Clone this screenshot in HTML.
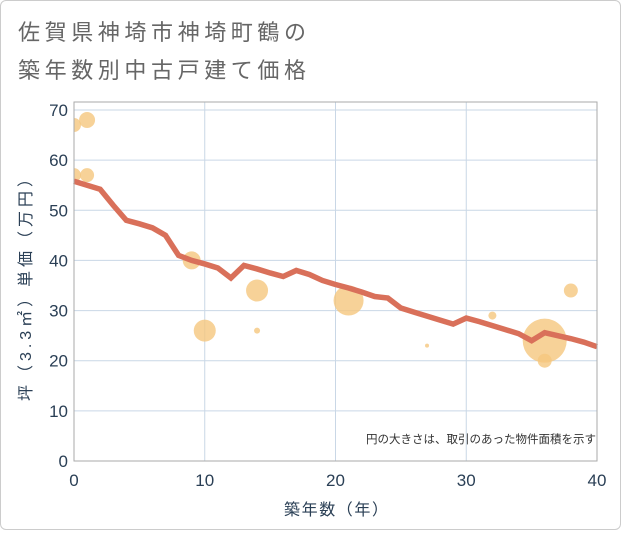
<!DOCTYPE html>
<html><head><meta charset="utf-8"><style>
body{margin:0;background:#fff;}
#c{position:absolute;left:0;top:0;width:619px;height:528px;border:1px solid #ccc;border-radius:6px;background:#fff;}
svg text{font-family:"Liberation Sans","Noto Sans CJK JP",sans-serif;}
</style></head><body>
<div id="c">
<svg id="s" width="621" height="530" xmlns="http://www.w3.org/2000/svg">
<defs><clipPath id="pc"><rect x="73" y="101" width="523" height="359"/></clipPath></defs>
<text x="17" y="39" font-size="22" fill="#666" textLength="288" lengthAdjust="spacing">佐賀県神埼市神埼町鶴の</text>
<text x="17" y="77" font-size="22" fill="#666" textLength="288" lengthAdjust="spacing">築年数別中古戸建て価格</text>
<g id="grid"></g><g id="bub" clip-path="url(#pc)"></g><g id="ln"></g><g id="ax"></g>
<text x="595" y="442" font-size="11.5" fill="#333" text-anchor="end">円の大きさは、取引のあった物件面積を示す</text>
<text x="335" y="514" font-size="16" fill="#2a3f55" text-anchor="middle" textLength="104" lengthAdjust="spacing">築年数（年）</text>
<text transform="translate(30,285) rotate(-90)" font-size="16" fill="#2a3f55" text-anchor="middle" textLength="230" lengthAdjust="spacing">坪（3.3㎡）単価（万円）</text>
</svg></div>
<script>
const lineYears=[0,1,2,3,4,5,6,7,8,9,10,11,12,13,14,15,16,17,18,19,20,21,22,23,24,25,26,27,28,29,30,31,32,33,34,35,36,37,38,39,40];
const lineValues=[55.8,55,54.2,51,48,47.3,46.5,45,41,40,39.3,38.5,36.5,39,38.3,37.5,36.8,38,37.2,36,35.2,34.5,33.7,32.8,32.5,30.5,29.7,28.9,28.1,27.3,28.5,27.8,27,26.2,25.4,24,25.6,25,24.4,23.7,22.8];
const bubbleYears=[0,1,0,1,9,10,14,14,21,27,32,36,36,38];
const bubbleValues=[67,68,57,57,40,26,34,26,32,23,29,24,20,34];
const bubbleSizes=[49,64,49,49,81,121,121,9,225,4,16,484,49,49];
const xTicks=[0,10,20,30,40];
const yTicks=[0,10,20,30,40,50,60,70];
const NS="http://www.w3.org/2000/svg";
const X=v=>73+v*(523/40), Y=v=>460-v*(351/70);
function mk(t,a,p){const e=document.createElementNS(NS,t);for(const k in a)e.setAttribute(k,a[k]);p.appendChild(e);return e;}
const grid=document.getElementById('grid'),ax=document.getElementById('ax');
yTicks.forEach(v=>{const l=mk('line',{x1:73,x2:596,y1:Y(v),y2:Y(v),stroke:'#c9d7e6','stroke-width':1},grid);


const t=mk('text',{x:67,y:Y(v)+6,'font-size':17,fill:'#2a3f55','text-anchor':'end'},ax);t.textContent=v;

});
xTicks.forEach(v=>{const l=mk('line',{x1:X(v),x2:X(v),y1:101,y2:460,stroke:'#c9d7e6','stroke-width':1},grid);


const t=mk('text',{x:X(v),y:485,'font-size':17,fill:'#2a3f55','text-anchor':'middle'},ax);t.textContent=v;

});
const fr=mk('rect',{x:73,y:101,width:523,height:359,fill:'none',stroke:'#aaa','stroke-width':1},ax);


const bub=document.getElementById('bub');
bubbleYears.forEach((yr,i)=>{const c=mk('circle',{cx:X(yr),cy:Y(bubbleValues[i]),r:Math.sqrt(bubbleSizes[i]),fill:'#f5c77e','fill-opacity':0.8},bub);

});
const p=mk('polyline',{points:lineYears.map((y,i)=>X(y)+','+Y(lineValues[i])).join(' '),fill:'none',stroke:'#d9705a','stroke-width':5.5,'stroke-linejoin':'miter'},document.getElementById('ln'));


</script>
</body></html>
